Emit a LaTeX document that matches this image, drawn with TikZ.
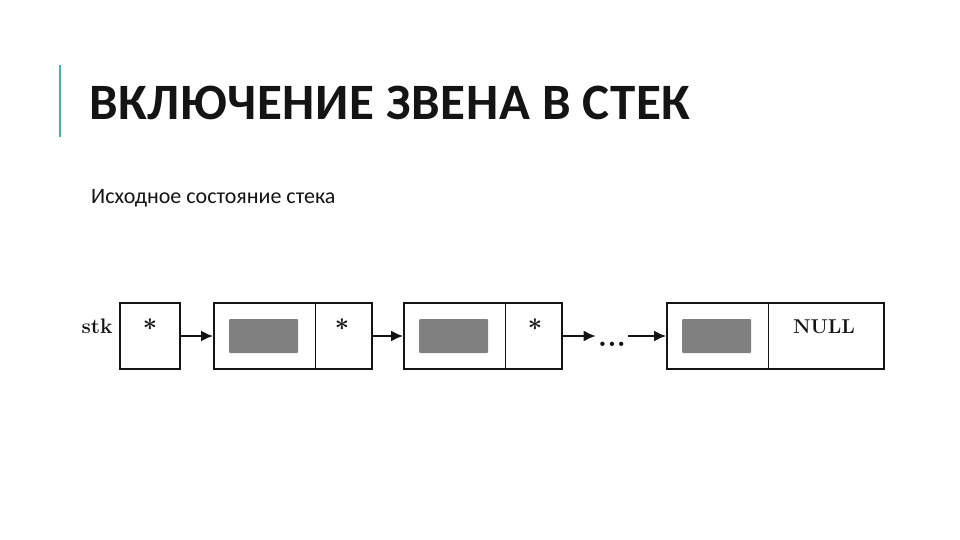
\documentclass[tikz,border=0pt]{standalone}
\usepackage{fontspec}
\usepackage{amsmath}
\usetikzlibrary{arrows.meta,calc}
\newfontfamily\calib{Carlito}
\newfontfamily\calibt[LetterSpace=1.2]{Carlito}
\definecolor{teal1}{HTML}{4AADB7}
\definecolor{ink}{HTML}{141414}
\definecolor{graybox}{HTML}{808080}
\begin{document}
\begin{tikzpicture}[x=1pt,y=-1pt,
  cell/.style={draw=ink, line width=1.8pt, rectangle, minimum height=66pt, inner sep=0pt},
  divider/.style={draw=ink, line width=1pt},
  datafill/.style={fill=graybox, rectangle, minimum width=69pt, minimum height=34pt, inner sep=0pt, rounded corners=1pt},
  link/.style={draw=ink, line width=2pt, -{Latex[length=12pt,width=11pt]}},
  astx/.style={inner sep=0pt, font=\fontsize{28}{28}\selectfont, text=ink},
  lbl/.style={inner sep=0pt, font=\bfseries\fontsize{20}{20}\selectfont, text=ink}
]
\useasboundingbox (0,0) rectangle (960,540);
% title bar
\draw[teal1, line width=2pt] (60,65) -- (60,137);
\node[anchor=base west, inner sep=0pt, text=ink, font=\calibt\bfseries\fontsize{51}{51}\selectfont] (title) at (89,120) {ВКЛЮЧЕНИЕ ЗВЕНА В СТЕК};
\node[anchor=base west, inner sep=0pt, text=ink, font=\calib\fontsize{22}{22}\selectfont] (sub) at (91,203) {Исходное состояние стека};
% stk
\node[lbl, anchor=base, font=\bfseries\fontsize{21}{21}\selectfont] (stklbl) at (97,333) {stk};
\node[cell, minimum width=60pt] (stk) at (150,336) {};
\node[astx] (a0) at (150,325) {$\boldsymbol{\ast}$};
% node 1
\node[cell, minimum width=158pt] (n1) at (293,336) {};
\draw[divider] (315,303) -- (315,369);
\node[datafill] (d1) at (263.5,336) {};
\node[astx] (a1) at (342,325) {$\boldsymbol{\ast}$};
% node 2
\node[cell, minimum width=158pt] (n2) at (483,336) {};
\draw[divider] (505,303) -- (505,369);
\node[datafill] (d2) at (453.5,336) {};
\node[astx] (a2) at (535,325) {$\boldsymbol{\ast}$};
% dots
\node[lbl, anchor=base, font=\bfseries\fontsize{30}{30}\selectfont, inner sep=2pt] (dots) at (612,346) {...};
% last node
\node[cell, minimum width=217pt] (n3) at (775.5,336) {};
\draw[divider] (768,303) -- (768,369);
\node[datafill] (d3) at (716.5,336) {};
\node[lbl, anchor=base] (null) at (824,333) {NULL};
% links
\draw[link] (stk.east) -- (n1.west);
\draw[link] (n1.east) -- (n2.west);
\draw[link] (n2.east) -- (n2.east -| dots.west);
\draw[link] (n3.west -| dots.east) -- (n3.west);
\end{tikzpicture}
\end{document}
